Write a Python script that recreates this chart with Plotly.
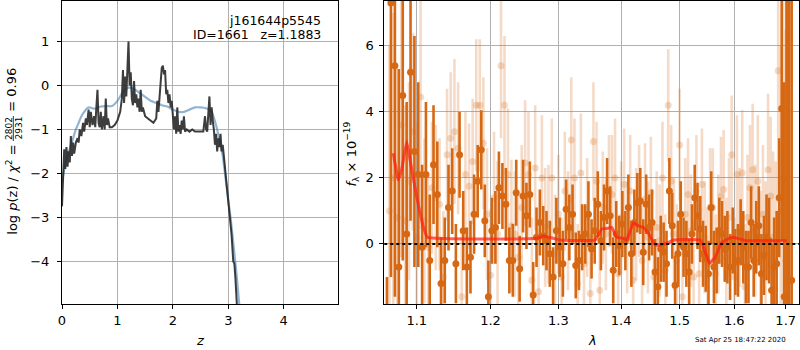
import plotly.graph_objects as go

# ---------------- left panel: log p(z) ----------------
z_grid = [0.00, 0.02, 0.04, 0.06, 0.08, 0.10, 0.12, 0.14, 0.16, 0.18, 0.20, 0.22, 0.25, 0.28, 0.30,
          0.32, 0.35, 0.38, 0.40, 0.43, 0.45, 0.48, 0.50, 0.52, 0.55, 0.58, 0.60, 0.62, 0.64, 0.66,
          0.68, 0.70, 0.72, 0.75, 0.77, 0.79, 0.81, 0.83, 0.86, 0.90, 0.95, 1.00, 1.05, 1.08, 1.10,
          1.12, 1.14, 1.16, 1.18, 1.20, 1.22, 1.24, 1.26, 1.28, 1.30, 1.32, 1.34, 1.36, 1.38, 1.40,
          1.42, 1.44, 1.46, 1.50, 1.55, 1.60, 1.65, 1.70, 1.72, 1.74, 1.76, 1.78, 1.80, 1.82, 1.84,
          1.86, 1.88, 1.90, 1.92, 1.94, 1.96, 1.98, 2.00, 2.02, 2.04, 2.06, 2.08, 2.10, 2.12, 2.14,
          2.16, 2.18, 2.20, 2.22, 2.25, 2.30, 2.35, 2.40, 2.45, 2.50, 2.55, 2.58, 2.60, 2.62, 2.64,
          2.66, 2.68, 2.70, 2.72, 2.74, 2.76, 2.78, 2.80, 2.82, 2.84, 2.86, 2.88, 2.90, 2.92, 2.95,
          3.00, 3.03, 3.06, 3.09, 3.11, 3.13, 3.16]
logpz = [-2.75, -2.10, -1.45, -1.90, -1.40, -1.85, -1.50, -1.75, -1.15, -1.60, -1.30, -1.55, -1.30, -1.20, -1.30,
         -1.00, -1.15, -0.85, -1.05, -0.75, -0.90, -0.55, -0.95, -0.60, -0.90, -0.70, -0.95, -0.50, -0.10, -0.85,
         -0.95, -0.60, -1.00, -0.70, -1.00, -0.30, -0.90, -0.75, -0.95, -0.95, -0.90, -0.80, -0.60, -0.30, 0.35,
         -0.40, 0.20, -0.25, 0.55, 1.00, 0.00, 0.30, -0.30, -0.45, 0.10, -0.40, -0.20, -0.50, -0.30, -0.60,
         -0.10, -0.60, -0.50, -0.70, -0.75, -0.80, -0.85, -0.75, -0.35, -0.60, -0.25, 0.10, 0.40, 0.45, 0.25,
         0.35, -0.20, -0.10, -0.40, -0.20, -0.50, -0.35, -0.80, -1.00, -0.70, -1.10, -0.50, -1.05, -0.90, -1.10,
         -0.80, -1.00, -0.70, -1.05, -1.00, -1.05, -1.00, -1.05, -1.05, -1.05, -1.05, -0.70, -1.00, -1.05, -0.60,
         -0.25, -0.90, -0.50, -0.80, -1.00, -1.35, -1.10, -1.50, -1.20, -1.40, -1.10, -1.50, -1.35, -1.60, -2.00,
         -2.60, -3.00, -3.40, -4.00, -4.05, -4.40, -5.10]

z_smooth = [0.00, 0.05, 0.10, 0.15, 0.20, 0.25, 0.30, 0.35, 0.40, 0.45, 0.50, 0.55, 0.60, 0.70, 0.80,
            0.90, 1.00, 1.10, 1.20, 1.30, 1.40, 1.50, 1.60, 1.70, 1.80, 1.90, 2.00, 2.10, 2.20, 2.30,
            2.40, 2.50, 2.60, 2.70, 2.80, 2.85, 2.90, 2.95, 3.00, 3.05, 3.10, 3.15, 3.20]
logpz_smooth = [-2.20, -1.85, -1.60, -1.40, -1.20, -1.00, -0.85, -0.70, -0.60, -0.52, -0.50, -0.52, -0.53, -0.48, -0.47,
                -0.47, -0.35, -0.15, -0.05, -0.08, -0.17, -0.26, -0.35, -0.40, -0.45, -0.48, -0.55, -0.60, -0.60, -0.55,
                -0.50, -0.50, -0.52, -0.60, -1.00, -1.30, -1.60, -2.10, -2.60, -3.10, -3.70, -4.30, -5.00]

# ---------------- right panel: spectrum ----------------
wave_a = [1.062, 1.067, 1.072, 1.077, 1.082, 1.087, 1.092, 1.097, 1.102, 1.107, 1.112, 1.117, 1.122, 1.127, 1.132,
          1.137, 1.142, 1.147, 1.152, 1.157, 1.162, 1.167, 1.172, 1.177, 1.182, 1.187, 1.192, 1.197, 1.202, 1.207,
          1.212, 1.217, 1.222, 1.227, 1.232, 1.237, 1.242, 1.247, 1.252, 1.257, 1.262, 1.267, 1.272, 1.277, 1.282,
          1.287, 1.292, 1.297, 1.302, 1.307, 1.312, 1.317, 1.322, 1.327, 1.332, 1.337, 1.342, 1.347, 1.352, 1.357,
          1.362, 1.367, 1.372, 1.377, 1.382, 1.387, 1.392, 1.397, 1.402, 1.407, 1.412, 1.417, 1.422, 1.427, 1.432,
          1.437, 1.442, 1.447, 1.452, 1.457, 1.462, 1.467, 1.472, 1.477, 1.482, 1.487, 1.492, 1.497, 1.502, 1.507,
          1.512, 1.517, 1.522, 1.527, 1.532, 1.537, 1.542, 1.547, 1.552, 1.557, 1.562, 1.567, 1.572, 1.577, 1.582,
          1.587, 1.592, 1.597, 1.602, 1.607, 1.612, 1.617, 1.622, 1.627, 1.632, 1.637, 1.642, 1.647, 1.652, 1.657,
          1.662, 1.667, 1.672, 1.677, 1.682, 1.687, 1.692, 1.697, 1.702, 1.707, 1.712]
flux_a = [-3.5, 7.3, 5.4, -0.7, 4.5, 0.3, 5.2, 2.8, 2.1, -0.1, 2.1, -0.5, 2.4, 1.5, -1.2,
          -0.5, 1.1, 1.6, -0.6, 2.7, 0.4, -0.7, -0.4, 0.9, 1.9, 2.85, 0.7, -1.6, 0.4, 0.5,
          1.7, 1.45, 1.2, -0.5, -0.5, 1.55, -0.75, 1.45, 0.85, 1.5, -1.55, 0.2, 0.65, 0.25, 0.1,
          -0.3, -1.0, 0.4, -0.1, -0.6, 1.05, 0.5, 0.9, -0.65, -0.5, 0.2, 0.3, 0.9, -0.15, 0.4,
          1.2, 0.1, 0.8, 1.6, 0.85, -0.8, 0.3, -0.05, 0.6, 0.1, 1.1, -0.3, 0.65, 1.25, 1.3,
          -0.25, 1.2, 0.5, 0.65, -0.85, -1.3, -0.15, -0.25, -0.6, 1.6, 0.55, -1.25, -0.3, 0.9, -0.1,
          -0.3, -0.85, 0.3, 1.4, 0.85, 0.45, -0.3, -0.45, -0.9, 1.1, -0.7, -0.5, 0.4, 0.3, -0.15,
          -0.1, -0.7, 0.1, -0.55, -0.5, 0.35, -0.1, -0.7, -0.7, 0.65, -0.5, 0.2, 0.55, -0.9, -0.35,
          0.2, 0.1, -1.4, -0.7, -0.6, 1.4, 4.1, -1.6, 2.0, -1.1, -1.1]
err_a = [2.5, 8.3, 7.0, 6.0, 5.0, 4.0, 4.5, 3.5, 2.8, 2.5, 2.2, 2.0, 1.8, 1.6, 1.4,
         1.3, 1.3, 1.3, 1.2, 1.3, 1.2, 1.2, 1.1, 1.2, 1.1, 1.2, 1.1, 1.1, 1.0, 1.1,
         1.1, 1.0, 1.1, 1.0, 1.1, 1.0, 1.0, 1.1, 1.0, 1.0, 1.0, 0.9, 1.0, 0.9, 0.9,
         1.0, 0.9, 1.0, 0.9, 1.0, 0.9, 1.0, 0.9, 1.0, 0.9, 1.0, 0.9, 1.0, 0.9, 1.0,
         1.0, 0.9, 1.0, 1.0, 0.9, 1.0, 1.0, 0.9, 1.0, 0.9, 1.0, 1.0, 1.0, 0.9, 1.0,
         1.0, 0.9, 1.0, 1.0, 1.0, 0.9, 1.0, 0.9, 1.0, 1.0, 1.0, 0.9, 1.0, 1.0, 0.9,
         1.0, 1.0, 0.9, 1.0, 1.0, 1.0, 1.0, 1.0, 1.0, 1.1, 1.1, 1.0, 1.0, 1.0, 1.0,
         1.1, 1.0, 1.0, 1.0, 1.1, 1.0, 1.1, 1.1, 1.1, 1.1, 1.1, 1.1, 1.2, 1.2, 1.2,
         1.3, 1.3, 1.4, 1.5, 1.6, 1.8, 4.0, 6.5, 8.0, 9.0, 9.0]

wave_b = [1.065, 1.070, 1.075, 1.080, 1.085, 1.090, 1.095, 1.100, 1.105, 1.110, 1.115, 1.120, 1.125, 1.130, 1.135,
          1.140, 1.145, 1.150, 1.155, 1.160, 1.165, 1.170, 1.175, 1.180, 1.185, 1.190, 1.195, 1.200, 1.205, 1.210,
          1.215, 1.220, 1.225, 1.230, 1.235, 1.240, 1.245, 1.250, 1.255, 1.260, 1.265, 1.270, 1.275, 1.280, 1.285,
          1.290, 1.295, 1.300, 1.305, 1.310, 1.315, 1.320, 1.325, 1.330, 1.335, 1.340, 1.345, 1.350, 1.355, 1.360,
          1.365, 1.370, 1.375, 1.380, 1.385, 1.390, 1.395, 1.400, 1.405, 1.410, 1.415, 1.420, 1.425, 1.430, 1.435,
          1.440, 1.445, 1.450, 1.455, 1.460, 1.465, 1.470, 1.475, 1.480, 1.485, 1.490, 1.495, 1.500, 1.505, 1.510,
          1.515, 1.520, 1.525, 1.530, 1.535, 1.540, 1.545, 1.550, 1.555, 1.560, 1.565, 1.570, 1.575, 1.580, 1.585,
          1.590, 1.595, 1.600, 1.605, 1.610, 1.615, 1.620, 1.625, 1.630, 1.635, 1.640, 1.645, 1.650, 1.655, 1.660,
          1.665, 1.670, 1.675, 1.680, 1.685, 1.690, 1.695, 1.700]
flux_b = [1.0, 2.0, 0.8, 3.6, 0.7, 1.9, 3.4, 0.2, 4.45, 0.7, -0.1, 1.7, 1.4, 1.2, -1.0,
          2.7, 3.2, 3.4, 2.9, -1.6, 2.1, 1.75, 2.5, 4.2, 4.2, 3.05, 0.9, -0.95, 1.4, 0.3,
          5.4, 4.2, 2.1, 0.55, 0.3, -0.4, 1.1, 2.45, 2.1, -1.1, 2.3, -1.45, 2.0, 0.5, 0.6,
          2.0, -0.3, 0.9, -1.0, 1.6, 0.4, 3.15, 2.0, -1.2, 2.15, -0.6, 0.8, -1.5, 3.1, 1.9,
          -1.4, 1.1, 0.3, 1.6, 1.5, 2.0, -0.9, 0.8, 1.8, 0.2, 1.6, -1.1, 0.6, 1.3, -0.5,
          1.35, 0.2, 1.55, -1.0, 0.5, 0.1, 2.0, -0.8, 4.2, 1.9, 0.3, -0.5, 3.0, -1.6, 0.9,
          1.5, 0.4, -1.0, 1.6, -0.9, 1.8, 0.2, -0.6, 1.1, 1.1, -0.9, 0.3, 1.45, 1.65, -0.4,
          0.8, 2.7, -1.0, 2.1, 0.5, 2.15, -1.3, 0.8, 1.7, 2.25, 0.4, 1.9, -0.5, 0.9, -0.3,
          2.25, 1.45, 0.2, -0.5, 5.25, 1.0, 2.0, -0.5]
err_b = [5.0, 5.0, 4.5, 4.0, 3.5, 3.0, 3.0, 3.5, 4.0, 2.5, 2.2, 2.0, 2.2, 2.0, 2.0,
         2.0, 2.0, 2.2, 2.0, 1.9, 1.9, 1.9, 1.9, 2.0, 2.0, 2.0, 2.0, 2.0, 2.0, 2.2,
         2.2, 2.1, 2.0, 2.0, 1.9, 1.9, 1.9, 1.9, 1.9, 1.9, 1.9, 1.9, 1.9, 1.8, 1.8,
         1.8, 1.8, 1.8, 1.8, 1.8, 1.8, 1.9, 1.8, 1.8, 1.8, 1.8, 1.8, 1.8, 1.8, 1.8,
         1.7, 1.7, 1.7, 1.7, 1.8, 1.8, 1.7, 1.7, 1.7, 1.7, 1.7, 1.7, 1.7, 1.7, 1.7,
         1.7, 1.7, 1.7, 1.7, 1.7, 1.7, 1.7, 1.7, 1.7, 1.7, 1.7, 1.7, 1.7, 1.7, 1.7,
         1.7, 1.7, 1.7, 1.7, 1.7, 1.7, 1.7, 1.7, 1.8, 1.8, 1.8, 1.8, 1.8, 1.8, 1.8,
         1.8, 1.8, 1.8, 1.8, 1.8, 1.9, 1.9, 1.9, 1.9, 2.0, 2.0, 2.0, 2.1, 2.1, 2.2,
         2.3, 2.4, 2.6, 3.0, 4.0, 5.0, 6.0, 7.0]

wave_model = [1.070, 1.0763, 1.0807, 1.0871, 1.0913, 1.100, 1.1086, 1.1139, 1.2674, 1.2773, 1.2923, 1.3026,
              1.3576, 1.3683, 1.3764, 1.3846, 1.3928, 1.4037, 1.4093, 1.4204, 1.4288, 1.4373, 1.4458, 1.4574,
              1.4660, 1.4777, 1.4893, 1.5369, 1.5429, 1.5538, 1.5643, 1.5768, 1.5955, 1.6112, 1.6210, 1.7020]
flux_model = [2.75, 1.94, 2.27, 3.10, 2.55, 1.43, 0.53, 0.20, 0.17, 0.24, 0.17, 0.12,
              0.12, 0.45, 0.47, 0.50, 0.20, 0.17, 0.12, 0.64, 0.55, 0.50, 0.32, -0.03,
              -0.03, 0.02, 0.12, 0.12, -0.08, -0.59, -0.40, 0.05, 0.20, 0.15, 0.10, 0.10]

left_xticks = [0, 1, 2, 3, 4]
left_yticks = [-4, -3, -2, -1, 0, 1]
right_xticks = [1.1, 1.2, 1.3, 1.4, 1.5, 1.6, 1.7]
right_xlabels = ["1.1", "1.2", "1.3", "1.4", "1.5", "1.6", "1.7"]
right_yticks = [0, 2, 4, 6]

title_lines = ["j161644p5545", "ID=1661   z=1.1883"]
timestamp = "Sat Apr 25 18:47:22 2020"

# ---------------- figure ----------------
W, H = 800, 350
FONT = "DejaVu Sans"
DARK = "rgb(214,104,20)"
LIGHT = "rgba(217,110,30,0.25)"

def px(x):
    return x / W

def py(y):
    return 1 - y / H

fig = go.Figure()

fig.add_trace(go.Scatter(x=z_smooth, y=logpz_smooth, mode="lines",
                         line=dict(color="rgba(70,130,180,0.6)", width=2.2, shape="spline", smoothing=0.6),
                         xaxis="x", yaxis="y", hoverinfo="skip"))
fig.add_trace(go.Scatter(x=z_grid, y=logpz, mode="lines",
                         line=dict(color="rgba(40,40,40,0.9)", width=2),
                         xaxis="x", yaxis="y", hoverinfo="skip"))

fig.add_trace(go.Scatter(x=wave_b, y=flux_b, mode="markers",
                         marker=dict(color=LIGHT, size=7, line=dict(width=0)),
                         error_y=dict(type="data", array=err_b, visible=True, thickness=2.6, width=0, color=LIGHT),
                         xaxis="x2", yaxis="y2", hoverinfo="skip"))
fig.add_trace(go.Scatter(x=wave_a, y=flux_a, mode="markers",
                         marker=dict(color=DARK, size=7, line=dict(width=0)),
                         error_y=dict(type="data", array=err_a, visible=True, thickness=2.6, width=0, color=DARK),
                         xaxis="x2", yaxis="y2", hoverinfo="skip"))
fig.add_trace(go.Scatter(x=wave_model, y=flux_model, mode="lines",
                         line=dict(color="rgba(255,30,20,0.72)", width=3, shape="spline", smoothing=0.3),
                         xaxis="x2", yaxis="y2", hoverinfo="skip"))

axis_common = dict(showline=True, linecolor="black", linewidth=1, mirror=True,
                   ticks="outside", ticklen=4, tickcolor="black", tickwidth=1, automargin=False,
                   showgrid=True, gridcolor="#b0b0b0", gridwidth=1, zeroline=False,
                   tickfont=dict(family=FONT, size=13, color="black"))

y_dom = [py(304), py(1)]
fig.update_layout(
    width=W, height=H, margin=dict(l=0, r=0, t=0, b=0, pad=0, autoexpand=False),
    paper_bgcolor="white", plot_bgcolor="white", showlegend=False,
    xaxis=dict(domain=[px(62), px(338)], range=[0, 4.98], tickvals=left_xticks, anchor="y", **axis_common),
    yaxis=dict(domain=y_dom, range=[-4.97, 1.92], tickvals=left_yticks, anchor="x",
               ticklabelstandoff=5, **axis_common),
    xaxis2=dict(domain=[px(384.3), px(799.3)], type="log", range=[0.02477, 0.23742],
                tickmode="array", tickvals=right_xticks, ticktext=right_xlabels, anchor="y2", **axis_common),
    yaxis2=dict(domain=y_dom, range=[-1.82, 7.36], tickvals=right_yticks, anchor="x2",
                ticklabelstandoff=3, **axis_common),
)

# dotted zero line across right panel
fig.add_shape(type="line", xref="x2 domain", yref="y2", x0=0, x1=1, y0=0, y1=0,
              line=dict(color="black", width=2, dash="dot"))

ann = []
ann.append(dict(x=px(323), y=py(20), text=title_lines[0], xanchor="right", yanchor="middle"))
ann.append(dict(x=px(323), y=py(35), text=title_lines[1], xanchor="right", yanchor="middle"))
for a in ann:
    a.update(xref="paper", yref="paper", showarrow=False, font=dict(family=FONT, size=12.5, color="black"))

labels = [
    dict(x=px(200), y=py(340), text="<i>z</i>", textangle=0),
    dict(x=px(592), y=py(340), text="<i>λ</i>", textangle=0),
    dict(x=px(351.5), y=py(154), text="<i>f</i><sub>λ</sub> × 10<sup>−19</sup>", textangle=-90),
    dict(x=px(11.7), y=py(190), text="log <i>p</i>(z) / <i>χ</i><sup>2</sup> =", textangle=-90),
    dict(x=px(11.7), y=py(90), text="= 0.96", textangle=-90),
]
for a in labels:
    a.update(xref="paper", yref="paper", showarrow=False, xanchor="center", yanchor="middle",
             font=dict(family=FONT, size=13, color="black"))
    ann.append(a)

frac = [
    dict(x=px(8.5), y=py(128.5), text="2802"),
    dict(x=px(18), y=py(128.5), text="2931"),
]
for a in frac:
    a.update(xref="paper", yref="paper", showarrow=False, xanchor="center", yanchor="middle",
             textangle=-90, font=dict(family=FONT, size=9, color="black"))
    ann.append(a)

ann.append(dict(x=px(788), y=py(340), text=timestamp, xref="paper", yref="paper", showarrow=False,
                xanchor="right", yanchor="middle", font=dict(family=FONT, size=7, color="black")))

fig.update_layout(annotations=ann)
fig.add_shape(type="line", xref="paper", yref="paper", x0=px(13.3), x1=px(13.3), y0=py(116), y1=py(141),
              line=dict(color="black", width=0.8))

fig.write_html("out.html", config={"displayModeBar": False},
               post_script="document.body.style.margin='0px';document.body.style.overflow='hidden';")
